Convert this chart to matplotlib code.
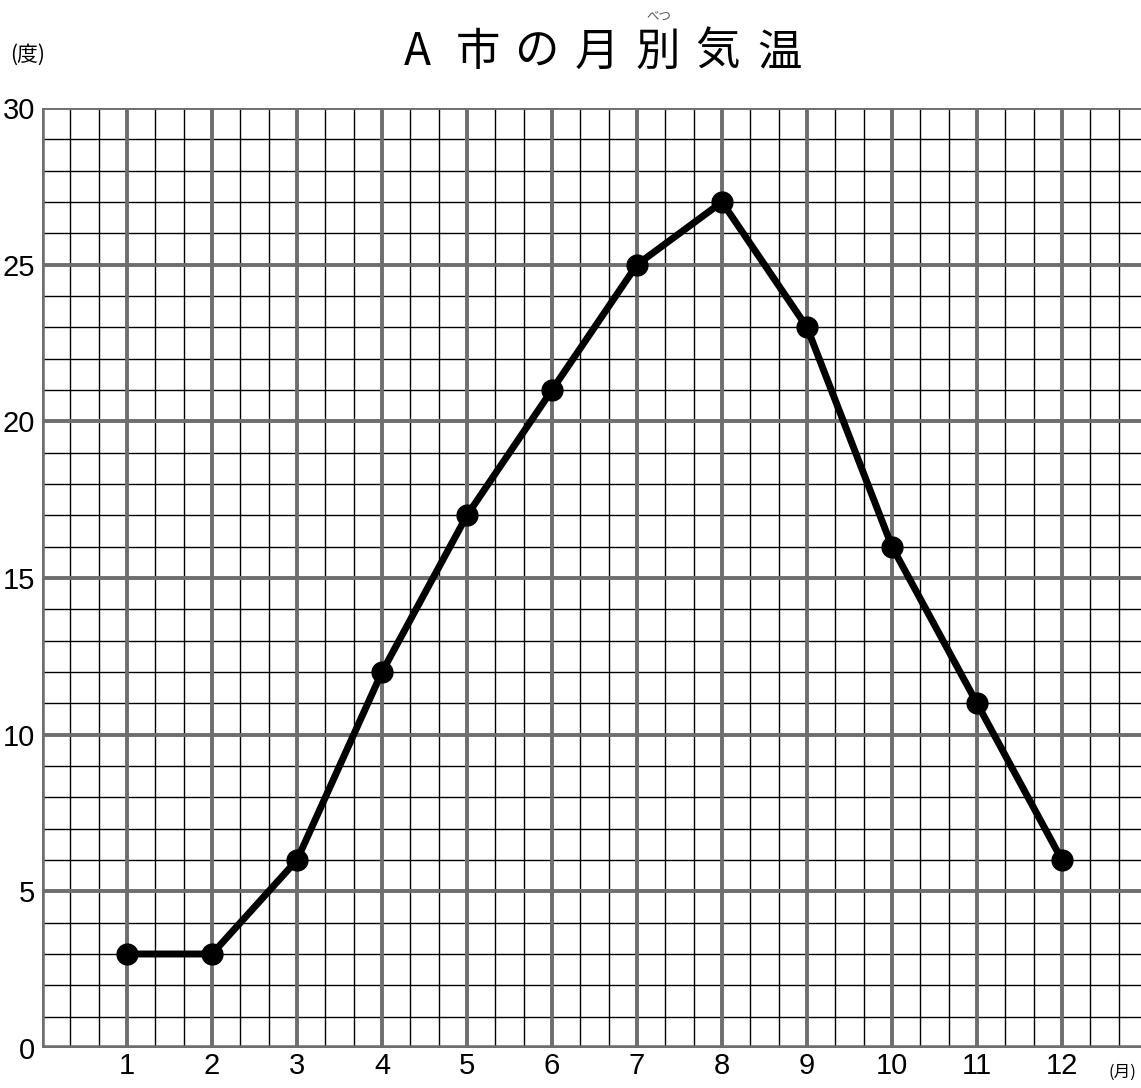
import matplotlib
matplotlib.use('Agg')
import matplotlib.pyplot as plt
import numpy as np

plt.rcParams['font.family'] = ['Liberation Sans', 'DejaVu Sans']

months = [1, 2, 3, 4, 5, 6, 7, 8, 9, 10, 11, 12]
temps = [3, 3, 6, 12, 17, 21, 25, 27, 23, 16, 11, 6]
y_ticks = [0, 5, 10, 15, 20, 25, 30]
title_chars = ['A', '市', 'の', '月', '別', '気', '温']
title_x = [417, 478, 536, 597, 658, 718, 780]

jp = ['Noto Sans CJK JP', 'DejaVu Sans']

fig = plt.figure(figsize=(11.41, 10.88), dpi=100)
ax = fig.add_axes([42 / 1141, 1 - 1048 / 1088, 1 - 42 / 1141, (1048 - 108) / 1088])
ax.set_xlim(0, (1141 - 42) / 85)
ax.set_ylim(0, 30)

# grid: thin black minor lines, thick gray major lines
for x in np.arange(0, 13, 1 / 3):
    if abs(x - round(x)) > 0.01:
        ax.axvline(x, color='black', lw=1.0, zorder=1)
for y in range(0, 31):
    if y % 5 != 0:
        ax.axhline(y, color='black', lw=1.0, zorder=1)
for x in range(0, 14):
    ax.axvline(x, color='#6e6e6e', lw=2.8, zorder=2)
for y in y_ticks:
    ax.axhline(y, color='#6e6e6e', lw=2.8, zorder=2)
ax.axhline(0, color='#6e6e6e', lw=4, zorder=2)
ax.axvline(0, color='#6e6e6e', lw=4, zorder=2)

ax.plot(months, temps, color='black', lw=5, marker='o', markersize=15, zorder=5,
        solid_capstyle='round', clip_on=False)

for s in ax.spines.values():
    s.set_visible(False)
ax.set_xticks(months)
ax.set_xticklabels([str(m) for m in months], fontsize=21)
ax.set_yticks(y_ticks)
ax.set_yticklabels([str(v) for v in y_ticks], fontsize=21)
ax.tick_params(axis='x', length=0, pad=3)
ax.tick_params(axis='y', length=0, pad=5)

fig.text(28 / 1141, 1 - 55 / 1088, '(度)', family=jp, fontsize=15, ha='center', va='center')
fig.text(1122 / 1141, 1 - 1072 / 1088, '(月)', family=jp, fontsize=12, ha='center', va='center')
for ch, x in zip(title_chars, title_x):
    fig.text(x / 1141, 1 - 52 / 1088, ch, family=jp, fontsize=32,
             ha='center', va='center')
fig.text(659 / 1141, 1 - 16 / 1088, 'べつ', family=jp, fontsize=9, color='#555555',
         ha='center', va='center')

fig.savefig('out.png', dpi=100)
